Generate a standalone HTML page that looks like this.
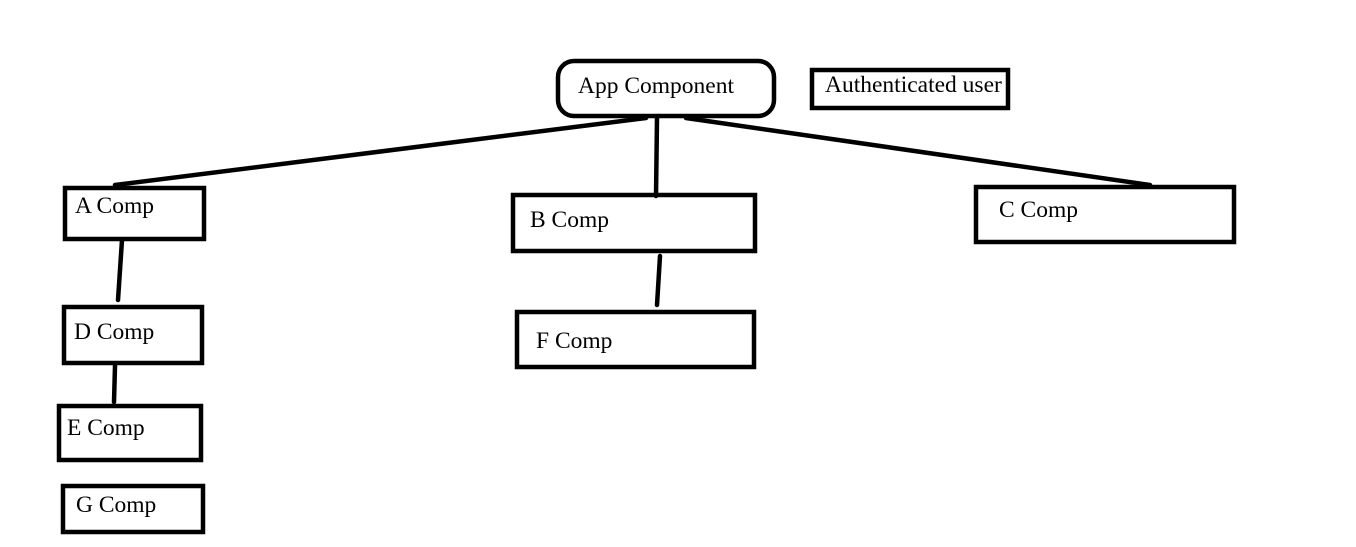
<!DOCTYPE html>
<html><head><style>html,body{margin:0;padding:0;background:#fff;width:1356px;height:547px;overflow:hidden}</style></head>
<body>
<svg width="1356" height="547" xmlns="http://www.w3.org/2000/svg" font-family="Liberation Serif, serif" font-size="23.5" fill="#000">
<defs><clipPath id="cl"><rect x="812" y="60" width="194" height="50"/></clipPath></defs>
<g stroke="#000" stroke-width="4.5" fill="none" stroke-linecap="round">
<rect x="558" y="61" width="216" height="55" rx="16"/>
<rect x="812" y="70" width="196" height="38"/>
<rect x="65" y="188" width="139" height="51"/>
<rect x="64" y="307" width="138" height="56"/>
<rect x="59" y="406" width="142" height="54"/>
<rect x="63" y="486" width="140" height="46"/>
<rect x="513" y="195" width="242" height="56"/>
<rect x="517" y="312" width="237" height="55"/>
<rect x="976" y="187" width="258" height="55"/>
<line x1="646" y1="118" x2="115" y2="185"/>
<line x1="657" y1="118" x2="656" y2="196"/>
<line x1="686" y1="118" x2="1150" y2="185"/>
<line x1="122" y1="240" x2="118" y2="300"/>
<line x1="115" y1="366" x2="114" y2="402"/>
<line x1="660" y1="256" x2="657" y2="305"/>
</g>
<g stroke="none">
<text x="578" y="93">App Component</text>
<text x="825" y="92" clip-path="url(#cl)">Authenticated user</text>
<text x="75" y="213">A Comp</text>
<text x="530" y="227">B Comp</text>
<text x="999" y="217">C Comp</text>
<text x="74" y="339">D Comp</text>
<text x="67" y="435">E Comp</text>
<text x="536" y="348">F Comp</text>
<text x="76" y="512">G Comp</text>
</g>
</svg>
</body></html>
